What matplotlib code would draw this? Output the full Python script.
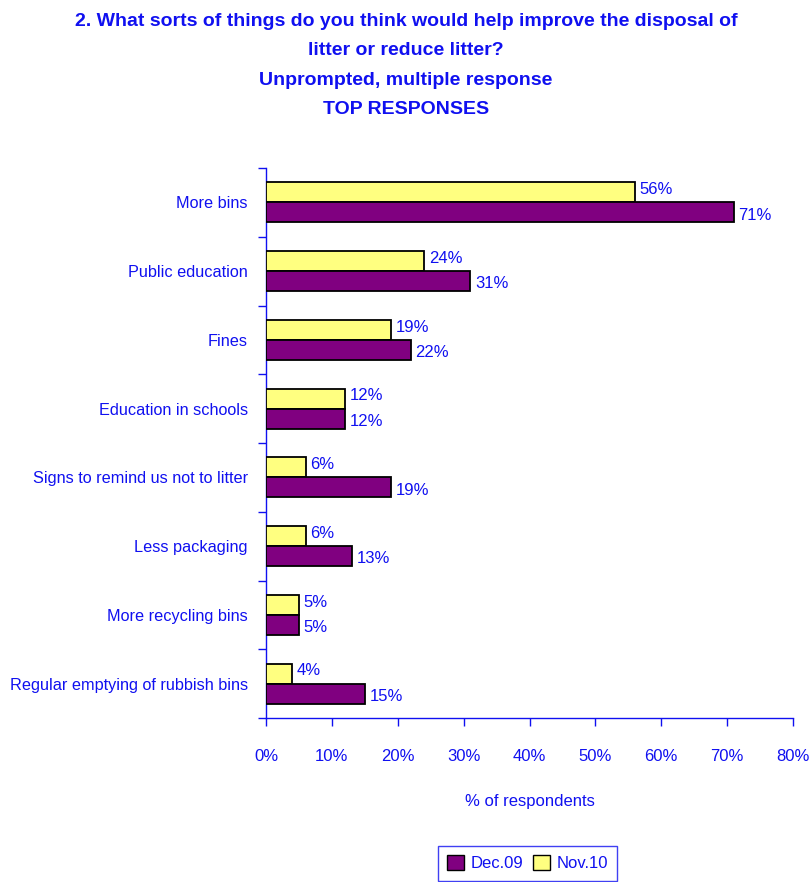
import matplotlib
matplotlib.use("Agg")
import matplotlib.pyplot as plt
import numpy as np
from matplotlib import font_manager
from matplotlib.patches import Patch

categories = [
    "More bins",
    "Public education",
    "Fines",
    "Education in schools",
    "Signs to remind us not to litter",
    "Less packaging",
    "More recycling bins",
    "Regular emptying of rubbish bins",
]
dec09 = [71, 31, 22, 12, 19, 13, 5, 15]
nov10 = [56, 24, 19, 12, 6, 6, 5, 4]
x_ticks = [0, 10, 20, 30, 40, 50, 60, 70, 80]

names = {f.name for f in font_manager.fontManager.ttflist}
family = "Liberation Sans Narrow" if "Liberation Sans Narrow" in names else "Liberation Sans"
plt.rcParams["font.family"] = [family, "DejaVu Sans"]

BLUE = "#1010f0"
PURPLE = "#800080"
YELLOW = "#ffff80"

fig = plt.figure(figsize=(8.12, 8.82), dpi=100)
ax = fig.add_axes([0.3276, 0.1859, 0.6490, 0.6236])

n = len(categories)
pos = np.arange(n)[::-1]  # first category at top
h = 0.29
ax.barh(pos + h / 2, nov10, height=h, color=YELLOW, edgecolor="black", linewidth=1.3, zorder=3)
ax.barh(pos - h / 2, dec09, height=h, color=PURPLE, edgecolor="black", linewidth=1.3, zorder=3)

for p, v in zip(pos, nov10):
    ax.text(v + 0.7, p + h / 2 + 0.04, f"{v}%", color=BLUE, fontsize=12, va="center", ha="left")
for p, v in zip(pos, dec09):
    ax.text(v + 0.7, p - h / 2 - 0.04, f"{v}%", color=BLUE, fontsize=12, va="center", ha="left")

ax.set_xlim(0, 80)
ax.set_ylim(-0.5, n - 0.5)
ax.set_xticks(x_ticks)
ax.set_xticklabels([f"{t}%" for t in x_ticks], color=BLUE, fontsize=12)
ax.set_yticks(pos)
ax.set_yticklabels(categories, color=BLUE, fontsize=11.7)
ax.tick_params(axis="y", length=0, pad=13)
ax.set_yticks(np.arange(-0.5, n, 1.0), minor=True)
ax.tick_params(axis="y", which="minor", length=6, color=BLUE, width=1)
ax.tick_params(axis="x", length=6, color=BLUE, width=1, pad=16)

for s in ["top", "right"]:
    ax.spines[s].set_visible(False)
for s in ["left", "bottom"]:
    ax.spines[s].set_color(BLUE)
    ax.spines[s].set_linewidth(1)

ax.set_xlabel("% of respondents", color=BLUE, fontsize=12, labelpad=22)

fig.text(0.5, 0.866,
         "2. What sorts of things do you think would help improve the disposal of\n"
         "litter or reduce litter?\nUnprompted, multiple response\nTOP RESPONSES",
         ha="center", va="bottom", color=BLUE, fontsize=14, fontweight="bold",
         linespacing=1.95)

handles = [Patch(facecolor=PURPLE, edgecolor="black"), Patch(facecolor=YELLOW, edgecolor="black")]
leg = fig.legend(handles, ["Dec.09", "Nov.10"], loc="upper center", bbox_to_anchor=(0.6496, 0.0408),
                 ncol=2, frameon=True, fancybox=False, fontsize=12, handlelength=1.0,
                 handleheight=1.0, handletextpad=0.4, columnspacing=0.6, borderpad=0.55,
                 borderaxespad=0)
leg.get_frame().set_edgecolor(BLUE)
leg.get_frame().set_linewidth(1)
for t in leg.get_texts():
    t.set_color(BLUE)

fig.savefig("out.png", dpi=100)
